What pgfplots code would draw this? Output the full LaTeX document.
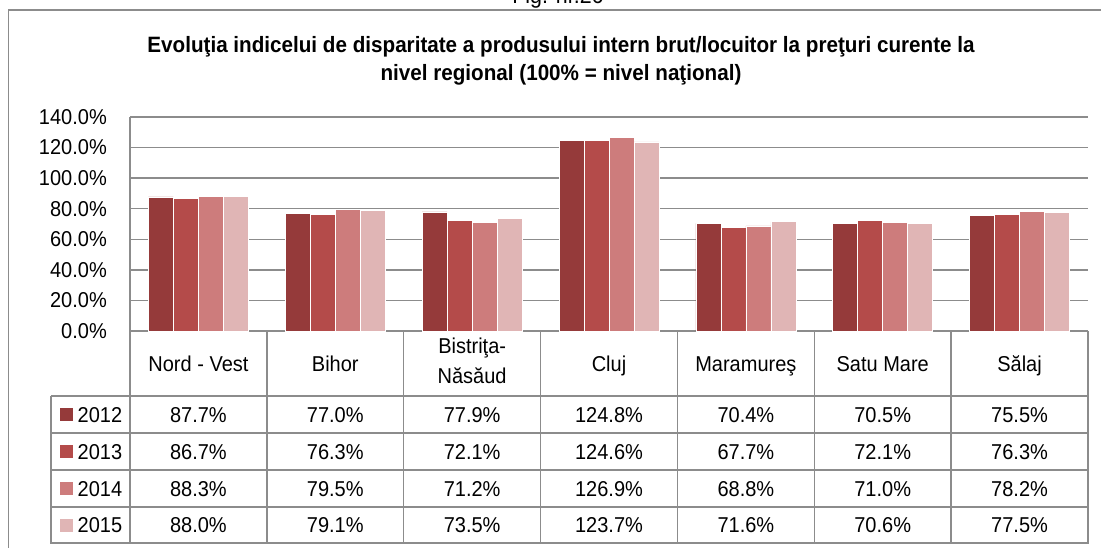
\documentclass[border=0pt]{standalone}
\usepackage{fontspec}
\setmainfont{Liberation Sans}[FakeStretch=0.93]
\usepackage{pgfplots}
\usepackage{pgfplotstable}
\pgfplotsset{compat=1.18}
\definecolor{c12}{HTML}{953A3A}
\definecolor{c13}{HTML}{B44B4A}
\definecolor{c14}{HTML}{CD7C7C}
\definecolor{c15}{HTML}{E0B5B5}
\definecolor{gridgray}{HTML}{8C8C8C}
\pgfkeys{/pgf/number format/assume math mode=true}

\pgfplotstableread{
x y2012 y2013 y2014 y2015
0 87.7 86.7 88.3 88.0
1 77.0 76.3 79.5 79.1
2 77.9 72.1 71.2 73.5
3 124.8 124.6 126.9 123.7
4 70.4 67.7 68.8 71.6
5 70.5 72.1 71.0 70.6
6 75.5 76.3 78.2 77.5
}\datatable

\newcommand{\tsz}{\fontsize{21.5}{26}\selectfont}

\begin{document}
\begin{tikzpicture}
\useasboundingbox (0pt,0pt) rectangle (1101pt,-548pt);
\tsz
% frame
\draw[gridgray,line width=1.5pt] (8.5pt,-560pt) -- (8.5pt,-10pt) -- (1110pt,-10pt);
\node[font=\fontsize{23}{26}\selectfont, anchor=base, inner sep=0pt] at (558pt,-4pt) {Fig. nr.26};
\node[font=\bfseries\fontsize{22.2}{26}\selectfont, anchor=base, inner sep=0pt] at (561pt,-53pt) {Evoluţia indicelui de disparitate a produsului intern brut/locuitor la preţuri curente la};
\node[font=\bfseries\fontsize{22.2}{26}\selectfont, anchor=base, inner sep=0pt] at (561pt,-81pt) {nivel regional (100\% = nivel naţional)};

\begin{axis}[at={(130pt,-331pt)}, anchor=south west,
  width=958pt, height=214pt, scale only axis,
  xmin=-0.5, xmax=6.5, ymin=0, ymax=140,
  ybar=0pt, bar width=25pt,
  ytick={0,20,...,140}, xtick=\empty,
  ymajorgrids, grid style={gridgray, line width=1.5pt},
  axis lines*=left,
  axis line style={gridgray, line width=1.5pt, -},
  major tick length=0pt,
  yticklabel={\pgfmathprintnumber[fixed,fixed zerofill,precision=1]{\tick}\%},
  yticklabel style={font=\tsz, anchor=east, inner sep=0pt, xshift=-23pt},
  clip=false]
\addplot[fill=c12, draw=white, line width=0.6pt] table[x=x,y=y2012]{\datatable};
\addplot[fill=c13, draw=white, line width=0.6pt] table[x=x,y=y2013]{\datatable};
\addplot[fill=c14, draw=white, line width=0.6pt] table[x=x,y=y2014]{\datatable};
\addplot[fill=c15, draw=white, line width=0.6pt] table[x=x,y=y2015]{\datatable};
\end{axis}

% data table
\begin{scope}[gridgray, line width=1.5pt]
\foreach \k in {0,...,7} \draw ({130pt+\k*136.857pt},-331pt) -- ({130pt+\k*136.857pt},-543.5pt);
\foreach \yy in {396,433,470,507,543} \draw (51pt,-\yy pt) -- (1088pt,-\yy pt);
\draw (51pt,-396pt) -- (51pt,-543.5pt);
\end{scope}

\foreach \name [count=\i from 0] in {Nord - Vest, Bihor, , Cluj, Maramureş, Satu Mare, Sălaj}
  \node[anchor=base, inner sep=0pt] at ({198.43pt+\i*136.857pt},-371pt) {\name};
\node[anchor=base, inner sep=0pt] at ({198.43pt+2*136.857pt},-353pt) {Bistriţa-};
\node[anchor=base, inner sep=0pt] at ({198.43pt+2*136.857pt},-383pt) {Năsăud};

\foreach \c/\yy/\col/\yr in {y2012/414.5/c12/2012, y2013/451.5/c13/2013, y2014/488.5/c14/2014, y2015/525/c15/2015} {
  \fill[\col] (60pt,{-\yy pt+6.5pt}) rectangle (73pt,{-\yy pt-6.5pt});
  \node[anchor=base west, inner sep=0pt] at (77.5pt,{-\yy pt-7.7pt}) {\yr};
  \foreach \r in {0,...,6} {
    \pgfplotstablegetelem{\r}{\c}\of\datatable
    \node[anchor=base, inner sep=0pt] at ({198.43pt+\r*136.857pt},{-\yy pt-7.7pt}) {\pgfmathprintnumber[fixed,fixed zerofill,precision=1]{\pgfplotsretval}\%};
  }
}
\end{tikzpicture}
\end{document}
